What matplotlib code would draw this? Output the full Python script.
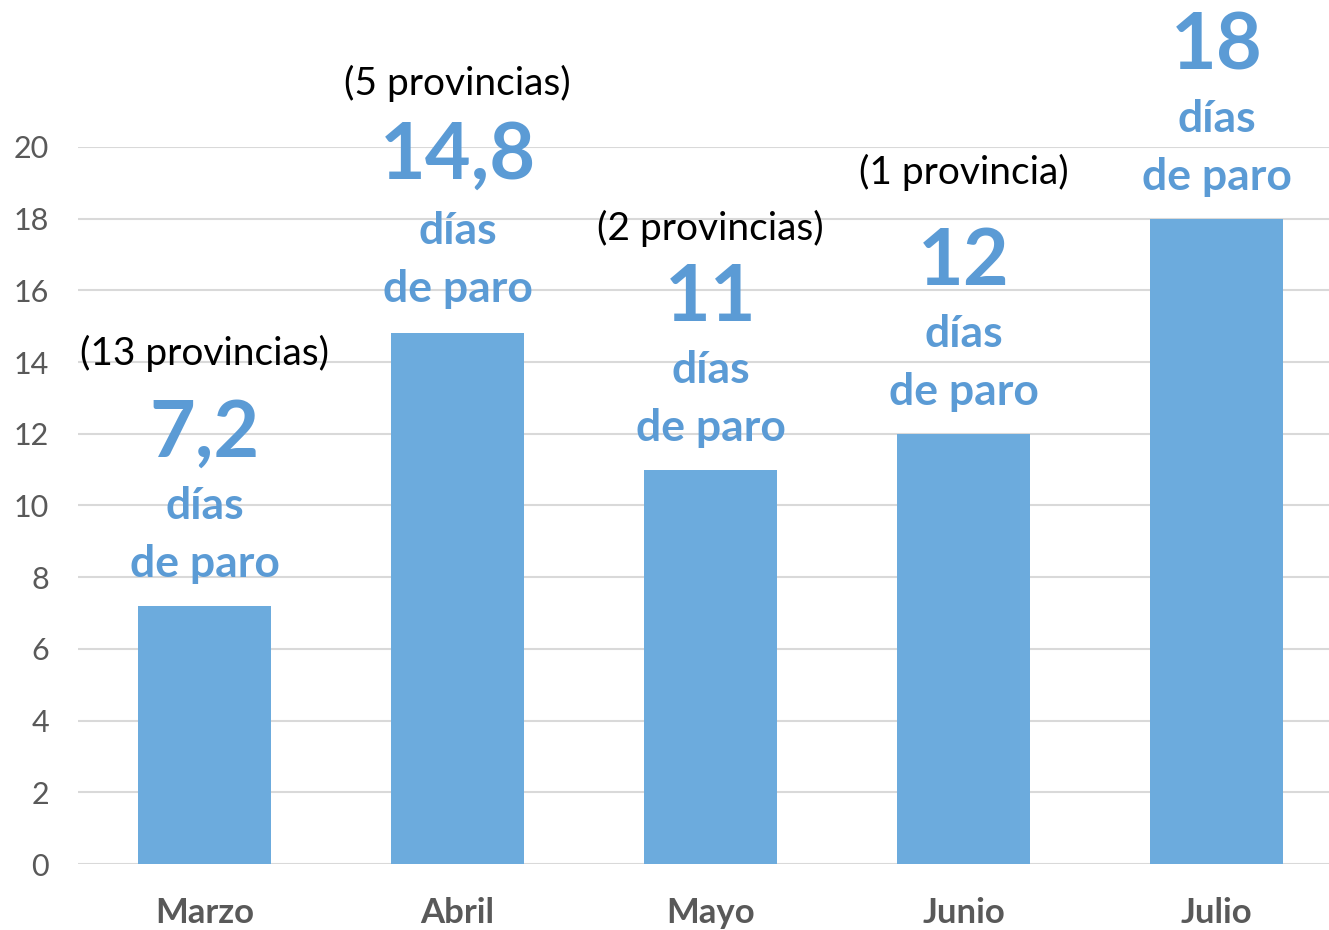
import matplotlib
matplotlib.use('Agg')
import matplotlib.pyplot as plt

# datos
meses = ['Marzo', 'Abril', 'Mayo', 'Junio', 'Julio']
dias_paro = [7.2, 14.8, 11, 12, 18]
etiquetas_valor = ['7,2', '14,8', '11', '12', '18']
provincias = ['(13 provincias)', '(5 provincias)', '(2 provincias)', '(1 provincia)', '']

color_barra = '#6CABDD'
color_texto = '#5B9BD5'
gris = '#595959'

plt.rcParams['font.family'] = ['Lato', 'DejaVu Sans']

fig = plt.figure(figsize=(13.29, 9.3), dpi=100)
ax = fig.add_axes([78 / 1329, 66 / 930, 1265 / 1329, 717 / 930])

x = range(len(meses))
bars = ax.bar(x, dias_paro, width=0.526, color=color_barra, zorder=2)

ax.set_xlim(-0.5, len(meses) - 0.5)
ax.set_ylim(0, 20)
ax.set_yticks(range(0, 21, 2))
ax.set_xticks(list(x))
ax.set_xticklabels(meses, fontsize=25, fontweight='bold', color=gris)
ax.tick_params(axis='x', length=0, pad=24)
ax.tick_params(axis='y', length=0, pad=21, labelsize=22, labelcolor=gris)

ax.grid(axis='y', color='#D9D9D9', linewidth=1.5, zorder=0)
for s in ax.spines.values():
    s.set_visible(False)

# separacion (en puntos) de cada bloque de texto respecto a la barra
sep_texto = [0, 2, 0, 0, 0]
sep_num = [0, 4, 0, 0, 0]
sep_prov = [182, 180, 174, 188, 0]

for i, (v, lab, prov) in enumerate(zip(dias_paro, etiquetas_valor, provincias)):
    d = sep_texto[i]
    ax.annotate('de paro', (i, v), xytext=(0, 30 + d), textcoords='offset points',
                ha='center', va='center', fontsize=32, fontweight='bold', color=color_texto)
    ax.annotate('días', (i, v), xytext=(0, 72 + d), textcoords='offset points',
                ha='center', va='center', fontsize=32, fontweight='bold', color=color_texto)
    ax.annotate(lab, (i, v), xytext=(0, 123 + sep_num[i]), textcoords='offset points',
                ha='center', va='center', fontsize=57, fontweight='bold', color=color_texto)
    if prov:
        ax.annotate(prov, (i, v), xytext=(0, sep_prov[i]), textcoords='offset points',
                    ha='center', va='center', fontsize=28, color='black')

fig.savefig('out.png', dpi=100)
